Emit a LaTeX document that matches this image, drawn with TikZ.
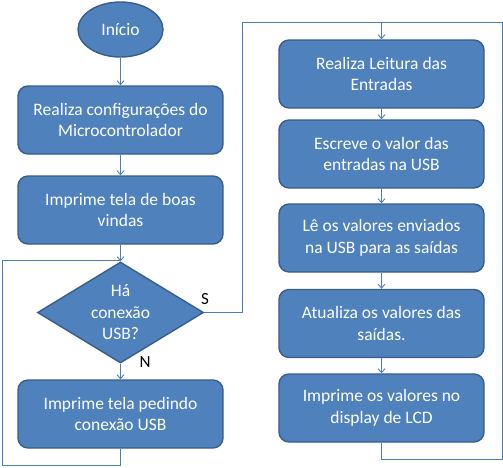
\documentclass[tikz,border=0pt]{standalone}
\usepackage{fontspec}
\setmainfont{Carlito}
\usetikzlibrary{shapes.geometric}
\usetikzlibrary{arrows.meta}
\tikzset{>={Straight Barb[width=7pt,length=4pt]}}
\definecolor{boxblue}{HTML}{4F81BD}
\definecolor{darkblue}{HTML}{385D8A}
\definecolor{lineblue}{HTML}{4A7EBB}
\tikzset{
  blockfill/.style={fill=boxblue, draw=darkblue, line width=1.4pt, text=white,
    align=center, inner sep=0pt, font=\fontsize{17.5}{21.5}\selectfont},
  stepbox/.style={blockfill, rectangle, rounded corners=10pt,
    minimum width=205pt, minimum height=68pt},
  startbox/.style={blockfill, ellipse, minimum width=85pt, minimum height=55pt},
  askbox/.style={blockfill, diamond, aspect=1.64, minimum width=166pt, minimum height=101pt},
  flow/.style={draw=lineblue, line width=0.9pt},
  answer/.style={font=\fontsize{17}{20}\selectfont, text=black, inner sep=0pt}
}

\begin{document}
\begin{tikzpicture}[x=1pt,y=-1pt]

  \newcommand\colL{120.5}
  \newcommand\colR{381.5}

  \useasboundingbox (0,0) rectangle (503,467);

  %% left column
  \node[startbox] (inicio) at (\colL,29.5) {Início};
  \node[stepbox] (config) at (\colL,120) {Realiza configurações do\\Microcontrolador};
  \node[stepbox] (boas) at (\colL,210) {Imprime tela de boas\\vindas};
  \node[askbox] (usb) at (\colL,312.5) {Há\\conexão\\USB?};
  \node[stepbox] (pedir) at (\colL,414) {Imprime tela pedindo\\conexão USB};

  %% right column
  \node[stepbox] (ler) at (\colR,74) {Realiza Leitura das\\Entradas};
  \node[stepbox] (escreve) at (\colR,154) {Escreve o valor das\\entradas na USB};
  \node[stepbox] (valores) at (\colR,238) {Lê os valores enviados\\na USB para as saídas};
  \node[stepbox] (atualiza) at (\colR,323.5) {Atualiza os valores das\\saídas.};
  \node[stepbox] (lcd) at (\colR,408) {Imprime os valores no\\display de LCD};

  \coordinate (join) at (\colL,260);
  \coordinate (topl) at (242,22);
  \coordinate (topm) at (\colR,22);
  \coordinate (topr) at (502,22);

  \draw[flow,->] (inicio) -- (config);
  \draw[flow,->] (config) -- (boas);
  \draw[flow,->] (boas) -- (usb);
  \draw[flow,->] (usb) -- (pedir); %% N
  \draw[flow] (pedir.south) -- ++(0,17) -| (2,260) -- (join); %% back to test

  \draw[flow] (usb.east) -| (topl) -- (topr); %% S
  \draw[flow,->] (topm) -- (ler);
  \draw[flow,->] (ler) -- (escreve);
  \draw[flow,->] (escreve) -- (valores);
  \draw[flow,->] (valores) -- (atualiza);
  \draw[flow,->] (atualiza) -- (lcd);
  \draw[flow] (lcd.south) -- ++(0,17) -| (topr); %% loop

  \node[answer] (sim) at (205,299) {S};
  \node[answer] (nao) at (145,362) {N};

\end{tikzpicture}
\end{document}
